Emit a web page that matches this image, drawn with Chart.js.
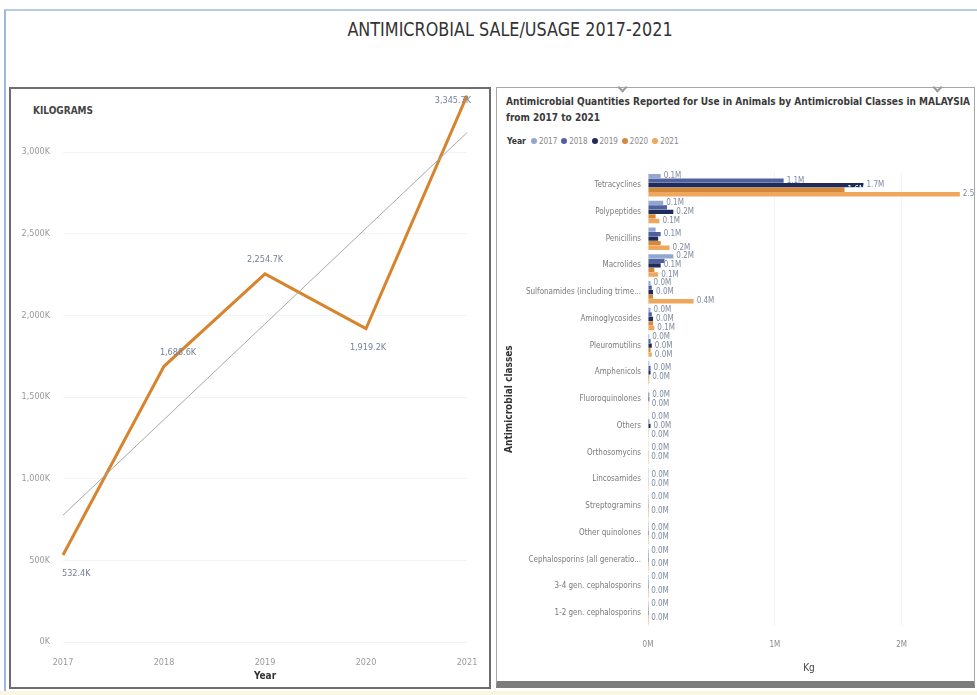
<!DOCTYPE html>
<html>
<head>
<meta charset="utf-8">
<script src="https://cdn.jsdelivr.net/npm/chart.js@4/dist/chart.umd.min.js"></script>
<style>
  html, body { margin: 0; padding: 0; background: #ffffff; }
  body { width: 977px; height: 695px; position: relative; overflow: hidden;
         font-family: "Liberation Sans Narrow", "DejaVu Sans Condensed", "Roboto Condensed", sans-serif; }
  .abs { position: absolute; }
  #frame { left: 4px; top: 9px; width: 973px; height: 684px;
           border-left: 2px solid #9fb5e2; border-top: 2px solid #b9c9ea; }
  #strip { left: 0; top: 691px; width: 977px; height: 4px; background: #fbf6e4; }
  #mainTitle { left: 0; width: 1020px; top: 17px; text-align: center; font-size: 20px; color: #333;
               transform: scaleX(0.89); transform-origin: 510px 0; }
  #leftBox { left: 9px; top: 87px; width: 478px; height: 598px; border: 2px solid #6d6d6d; }
  #rightBox { left: 496px; top: 87px; width: 477px; height: 593px; border: 1px solid #a8a8a8; border-bottom: 7px solid #7c7c7c; }
  #kgLabel { left: 33px; top: 105px; font-size: 10px; font-weight: bold; color: #444; }
  #rTitle { left: 506px; top: 94px; font-size: 11px; font-weight: bold; color: #3a3a3a; line-height: 16px; white-space: nowrap;
            transform: scaleX(0.91); transform-origin: 0 0; }
  #legend { left: 507px; top: 136px; font-size: 8px; color: #888; white-space: nowrap; display: flex; align-items: center; }
  #legend b { color: #333; font-size: 8.5px; margin-right: 5px; }
  #legend span.item { display: inline-flex; align-items: center; margin-right: 4px; }
  #legend i { display: inline-block; width: 6px; height: 6px; border-radius: 50%; margin-right: 2px; }
  .chev { width: 5px; height: 5px; border-right: 2px solid #9a9a9a; border-bottom: 2px solid #9a9a9a; transform: rotate(45deg); top: 84px; }
  canvas { position: absolute; }
</style>
</head>
<body>
<div id="frame" class="abs"></div>
<div id="strip" class="abs"></div>
<div id="mainTitle" class="abs">ANTIMICROBIAL SALE/USAGE 2017-2021</div>

<div id="leftBox" class="abs"></div>
<div id="kgLabel" class="abs">KILOGRAMS</div>
<canvas id="lineChart" width="480" height="600" style="left:10px; top:88px;"></canvas>

<div id="rightBox" class="abs"></div>
<div class="abs chev" style="left:619px;"></div>
<div class="abs chev" style="left:934px;"></div>
<div id="rTitle" class="abs">Antimicrobial Quantities Reported for Use in Animals by Antimicrobial Classes in MALAYSIA<br>from 2017 to 2021</div>
<div id="legend" class="abs"></div>
<canvas id="barChart" width="478" height="523" style="left:497px; top:160px;"></canvas>

<script>
// ---- data ----
const years = ['2017', '2018', '2019', '2020', '2021'];

// total antimicrobial sales per year, thousands of kg
const totalKg = [532.4, 1688.6, 2254.7, 1919.2, 3345.7];
const kgTicks = [0, 500, 1000, 1500, 2000, 2500, 3000];

// quantities by antimicrobial class, millions of kg
const classNames = [
  'Tetracyclines', 'Polypeptides', 'Penicillins', 'Macrolides',
  'Sulfonamides (including trime...', 'Aminoglycosides', 'Pleuromutilins',
  'Amphenicols', 'Fluoroquinolones', 'Others', 'Orthosomycins', 'Lincosamides',
  'Streptogramins', 'Other quinolones', 'Cephalosporins (all generatio...',
  '3-4 gen. cephalosporins', '1-2 gen. cephalosporins'
];
const qty2017 = [0.10, 0.12, 0.06, 0.20, 0.02, 0.02, 0.010, 0.010, 0.004, 0.004, 0.003, 0.002, 0.002, 0.001, 0.001, 0.001, 0.001];
const qty2018 = [1.07, 0.15, 0.10, 0.13, 0.03, 0.03, 0.020, 0.020, 0.010, 0.010, 0.004, 0.003, 0.002, 0.002, 0.001, 0.001, 0.001];
const qty2019 = [1.70, 0.20, 0.08, 0.10, 0.04, 0.04, 0.030, 0.020, 0.010, 0.020, 0.003, 0.003, 0.002, 0.001, 0.001, 0.001, 0.001];
const qty2020 = [1.55, 0.06, 0.10, 0.05, 0.04, 0.04, 0.020, 0.010, 0.005, 0.002, 0.002, 0.002, 0.001, 0.001, 0.001, 0.001, 0.001];
const qty2021 = [2.46, 0.09, 0.17, 0.08, 0.36, 0.05, 0.030, 0.010, 0.005, 0.002, 0.002, 0.002, 0.001, 0.001, 0.001, 0.001, 0.001];
const massTicks = [0, 1, 2];

// ---- styling ----
const NARROW = '"Liberation Sans Narrow", "DejaVu Sans Condensed", "Roboto Condensed", sans-serif';
const yearColors = ['#93a6d2', '#4f609f', '#1f2b58', '#d4893a', '#eea75c'];
const lineLabelPlacement = ['below', 'above', 'above', 'below', 'left'];

Chart.defaults.font.family = NARROW;

// legend built from the year list and colours
const legend = document.getElementById('legend');
legend.innerHTML = '<b>Year</b>' + years.map((y, i) =>
  `<span class="item"><i style="background:${yearColors[i]}"></i>${y}</span>`).join('');

// least-squares trend over the yearly totals
function linearTrend(vals) {
  const n = vals.length;
  const mx = (n - 1) / 2;
  const my = vals.reduce((a, b) => a + b, 0) / n;
  let sxy = 0, sxx = 0;
  vals.forEach((v, i) => { sxy += (i - mx) * (v - my); sxx += (i - mx) * (i - mx); });
  const slope = sxy / sxx;
  return vals.map((_, i) => my + slope * (i - mx));
}

const fmtK = v => v.toLocaleString('en-US', { minimumFractionDigits: 1, maximumFractionDigits: 1 }) + 'K';

// value labels beside the yearly total points
const lineValueLabels = {
  id: 'lineValueLabels',
  afterDatasetsDraw(chart) {
    const ctx = chart.ctx;
    const meta = chart.getDatasetMeta(0);
    ctx.save();
    ctx.font = '9px ' + NARROW;
    ctx.fillStyle = '#74829a';
    ctx.textBaseline = 'middle';
    meta.data.forEach((pt, i) => {
      const txt = fmtK(totalKg[i]);
      const p = lineLabelPlacement[i];
      if (p === 'above') { ctx.textAlign = 'center'; ctx.fillText(txt, pt.x + (i === 1 ? 14 : 0), pt.y - 14); }
      else if (p === 'below') { ctx.textAlign = i === 0 ? 'left' : 'center'; ctx.fillText(txt, pt.x + (i === 0 ? -1 : 2), pt.y + 19); }
      else { ctx.textAlign = 'right'; ctx.fillText(txt, pt.x + 4, pt.y + 5); }
    });
    ctx.restore();
  }
};

new Chart(document.getElementById('lineChart'), {
  type: 'line',
  data: {
    labels: years,
    datasets: [
      { data: totalKg, borderColor: '#d8842f', borderWidth: 3, pointRadius: 0, tension: 0, order: 2 },
      { data: linearTrend(totalKg), borderColor: '#a8a8a8', borderWidth: 1, pointRadius: 0, tension: 0, order: 1 }
    ]
  },
  options: {
    responsive: false,
    animation: false,
    layout: { padding: { left: 0, top: 7, right: 23, bottom: 0 } },
    plugins: { legend: { display: false }, tooltip: { enabled: false } },
    scales: {
      x: {
        offset: false,
        grid: { display: false },
        border: { display: false },
        ticks: { color: '#9a9a9a', font: { size: 9 }, padding: 7, maxRotation: 0 },
        title: { display: true, text: 'Year', color: '#333', font: { size: 10, weight: 'bold' }, padding: { top: 2, bottom: 6 } },
        afterFit(s) { s.height = 46; }
      },
      y: {
        min: 0, max: 3350,
        afterBuildTicks(s) { s.ticks = kgTicks.map(v => ({ value: v })); },
        grid: { color: '#f3f3f3', drawTicks: false },
        border: { display: false },
        ticks: { padding: 13, color: '#9a9a9a', font: { size: 9 }, callback: v => v.toLocaleString('en-US') + 'K' },
        afterFit(s) { s.width = 53; s.paddingTop = 0; s.paddingBottom = 0; }
      }
    }
  },
  plugins: [lineValueLabels]
});

// value labels at bar ends; skip any that would collide with one already placed
const barValueLabels = {
  id: 'barValueLabels',
  afterDatasetsDraw(chart) {
    const ctx = chart.ctx;
    const series = chart.data.datasets.map(d => d.data);
    ctx.save();
    ctx.font = '8px ' + NARROW;
    ctx.textBaseline = 'middle';
    ctx.textAlign = 'left';
    classNames.forEach((_, ci) => {
      const upper = [0, 1, 2].reduce((a, b) => series[b][ci] > series[a][ci] ? b : a);
      const lower = [3, 4].reduce((a, b) => series[b][ci] > series[a][ci] ? b : a);
      const rest = [0, 1, 2, 3, 4].filter(d => d !== upper && d !== lower)
        .sort((a, b) => series[b][ci] - series[a][ci]);
      const placed = [];
      [upper, lower, ...rest].forEach(di => {
        const bar = chart.getDatasetMeta(di).data[ci];
        const txt = series[di][ci].toFixed(1) + 'M';
        const w = ctx.measureText(txt).width;
        const box = { x1: bar.x + 3, x2: bar.x + 3 + w, y1: bar.y - 4, y2: bar.y + 4 };
        const hit = placed.some(b => box.x1 < b.x2 && box.x2 > b.x1 && box.y1 < b.y2 && box.y2 > b.y1);
        if (hit) return;
        placed.push(box);
        // a label that sits on the following, longer bar is drawn in white
        const next = di < 4 ? chart.getDatasetMeta(di + 1).data[ci] : null;
        ctx.fillStyle = (next && di === 3 && next.x > box.x2 + 2) ? '#ffffff' : '#7d8aa0';
        ctx.fillText(txt, box.x1, bar.y);
      });
    });
    ctx.restore();
  }
};

const yearSeries = [qty2017, qty2018, qty2019, qty2020, qty2021];

new Chart(document.getElementById('barChart'), {
  type: 'bar',
  data: {
    labels: classNames,
    datasets: years.map((y, i) => ({
      label: y,
      data: yearSeries[i],
      backgroundColor: yearColors[i],
      categoryPercentage: 0.85,
      barPercentage: 0.95
    }))
  },
  options: {
    indexAxis: 'y',
    responsive: false,
    animation: false,
    layout: { padding: { left: 6, top: 11.6, right: 5, bottom: 3 } },
    plugins: { legend: { display: false }, tooltip: { enabled: false } },
    scales: {
      x: {
        min: 0, max: 2.54,
        afterBuildTicks(s) { s.ticks = massTicks.map(v => ({ value: v })); },
        grid: { color: '#f3f3f3', drawTicks: false },
        border: { display: false },
        ticks: { color: '#8a8a8a', font: { size: 8 }, padding: 14, callback: v => v + 'M' },
        title: { display: true, text: 'Kg', color: '#444', font: { size: 10 }, padding: { top: 0, bottom: 6 } },
        afterFit(s) { s.height = 53.6; }
      },
      y: {
        grid: { display: false, drawTicks: false },
        border: { display: false },
        ticks: { color: '#7a7a7a', font: { size: 8 }, padding: 7, autoSkip: false },
        title: { display: true, text: 'Antimicrobial classes', color: '#333', font: { size: 10, weight: 'bold' }, padding: { top: 0, bottom: 0 } },
        afterFit(s) { s.width = 145; }
      }
    }
  },
  plugins: [barValueLabels]
});
</script>
</body>
</html>
